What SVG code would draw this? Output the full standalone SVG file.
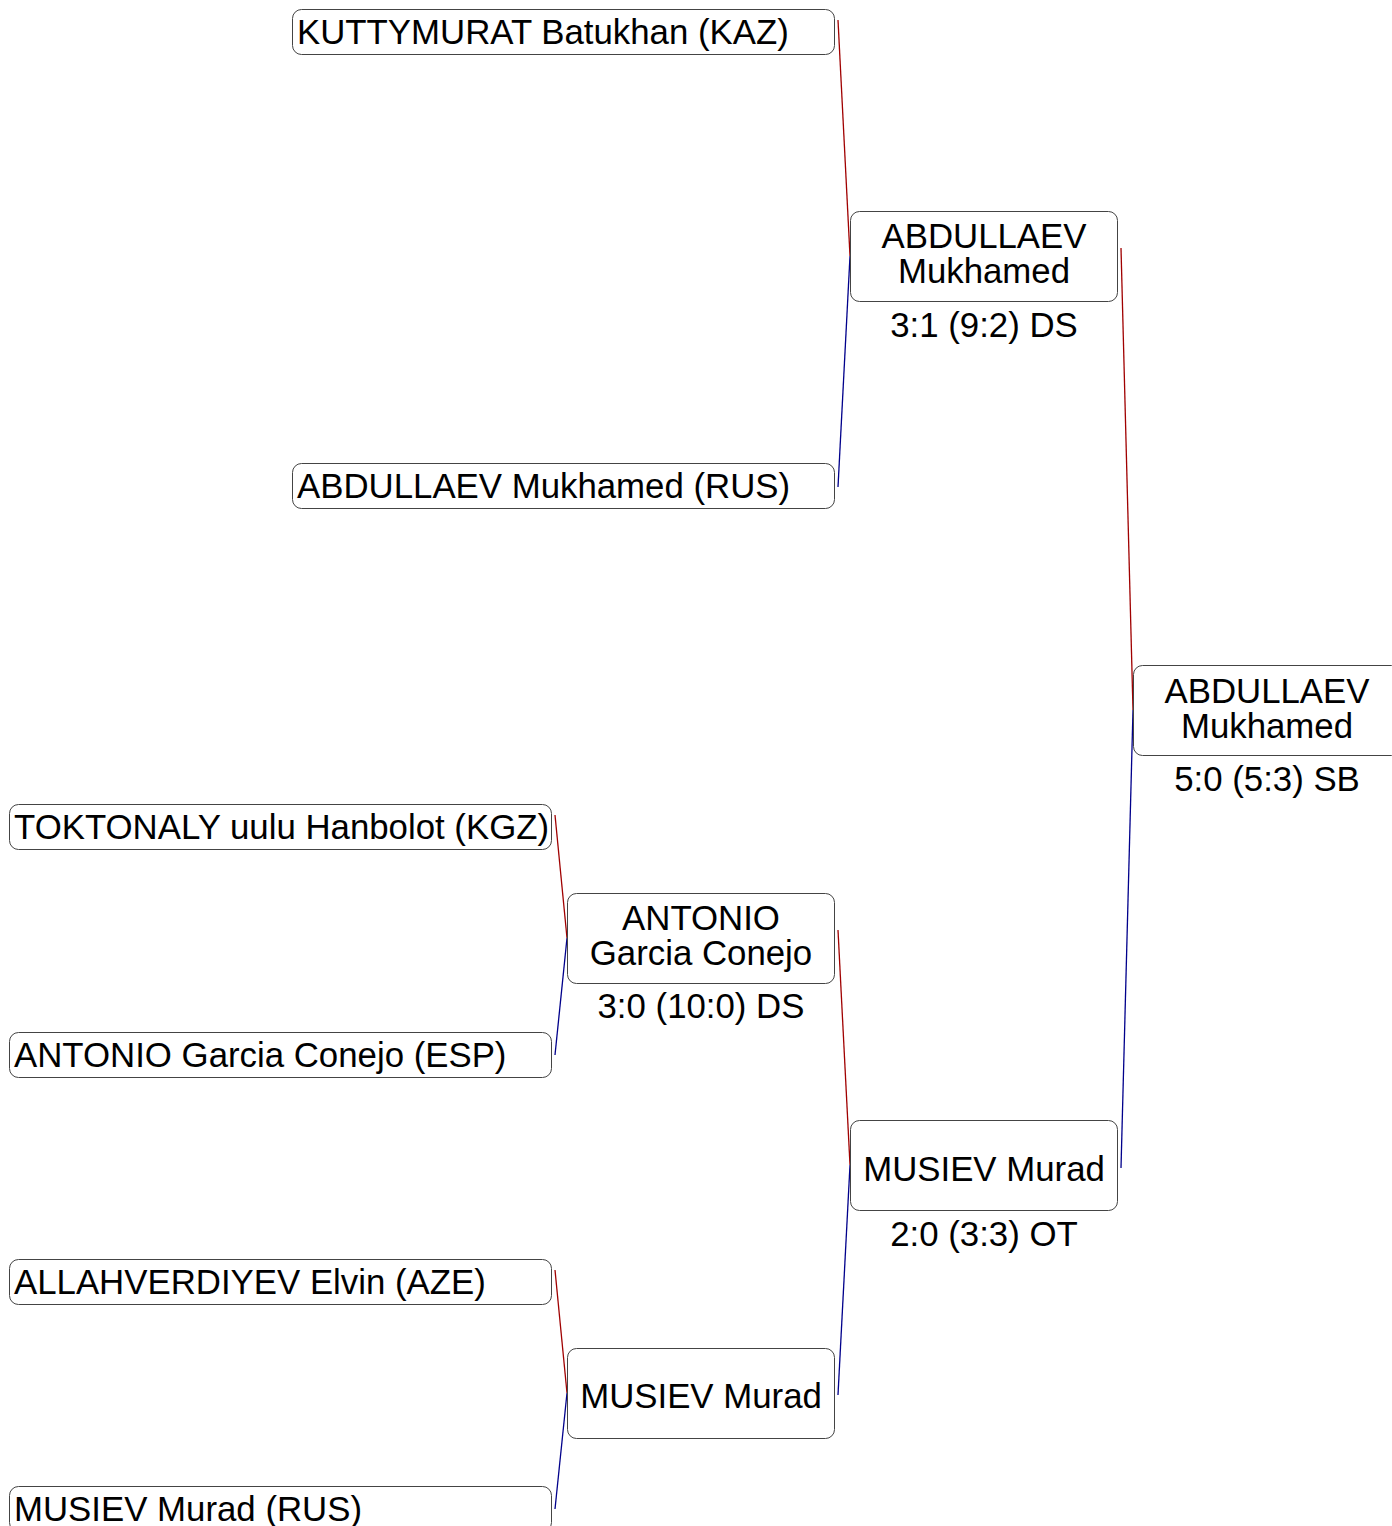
<svg xmlns="http://www.w3.org/2000/svg" width="1392" height="1526" viewBox="0 0 1392 1526">
<style>
.box{fill:#fff;stroke:#444;stroke-width:1}
text{font-family:"Liberation Sans",Arial,sans-serif;font-size:34.8px;fill:#000}
.c{text-anchor:middle}
.red{stroke:#a00000;stroke-width:1.3;fill:none}
.blue{stroke:#00008b;stroke-width:1.3;fill:none}
</style>
<rect width="1392" height="1526" fill="#fff"/>
<g id="connectors">
<polyline class="red" points="838,20 850,256"/>
<polyline class="blue" points="850,256 838,487"/>
<polyline class="red" points="1121,248 1133,710"/>
<polyline class="blue" points="1133,710 1121,1168"/>
<polyline class="red" points="555,815 567,938"/>
<polyline class="blue" points="567,938 555,1055"/>
<polyline class="red" points="555,1270 567,1393"/>
<polyline class="blue" points="567,1393 555,1509"/>
<polyline class="red" points="838,930 850,1165"/>
<polyline class="blue" points="850,1165 838,1395"/>
</g>
<g id="e1"><rect class="box" x="292.5" y="9.5" width="542" height="45" rx="9"/><text x="297" y="44">KUTTYMURAT Batukhan (KAZ)</text></g>
<g id="e2"><rect class="box" x="292.5" y="463.5" width="542" height="45" rx="9"/><text x="297" y="498">ABDULLAEV Mukhamed (RUS)</text></g>
<g id="e3"><rect class="box" x="9.5" y="804.5" width="542" height="45" rx="9"/><text x="14" y="839">TOKTONALY uulu Hanbolot (KGZ)</text></g>
<g id="e4"><rect class="box" x="9.5" y="1032.5" width="542" height="45" rx="9"/><text x="14" y="1067">ANTONIO Garcia Conejo (ESP)</text></g>
<g id="e5"><rect class="box" x="9.5" y="1259.5" width="542" height="45" rx="9"/><text x="14" y="1294">ALLAHVERDIYEV Elvin (AZE)</text></g>
<g id="e6"><rect class="box" x="9.5" y="1486.5" width="542" height="45" rx="9"/><text x="14" y="1521">MUSIEV Murad (RUS)</text></g>
<g id="r2a"><rect class="box" x="850.5" y="211.5" width="267" height="90" rx="9"/><text class="c" x="984" y="248">ABDULLAEV</text><text class="c" x="984" y="283">Mukhamed</text><text class="c" x="984" y="337">3:1 (9:2) DS</text></g>
<g id="r2b"><rect class="box" x="567.5" y="893.5" width="267" height="90" rx="9"/><text class="c" x="701" y="930">ANTONIO</text><text class="c" x="701" y="965">Garcia Conejo</text><text class="c" x="701" y="1018">3:0 (10:0) DS</text></g>
<g id="r2c"><rect class="box" x="567.5" y="1348.5" width="267" height="90" rx="9"/><text class="c" x="701" y="1408">MUSIEV Murad</text></g>
<g id="sf"><rect class="box" x="850.5" y="1120.5" width="267" height="90" rx="9"/><text class="c" x="984" y="1181">MUSIEV Murad</text><text class="c" x="984" y="1246">2:0 (3:3) OT</text></g>
<g id="final"><rect class="box" x="1133.5" y="665.5" width="267" height="90" rx="9"/><text class="c" x="1267" y="703">ABDULLAEV</text><text class="c" x="1267" y="738">Mukhamed</text><text class="c" x="1267" y="791">5:0 (5:3) SB</text></g>
</svg>
